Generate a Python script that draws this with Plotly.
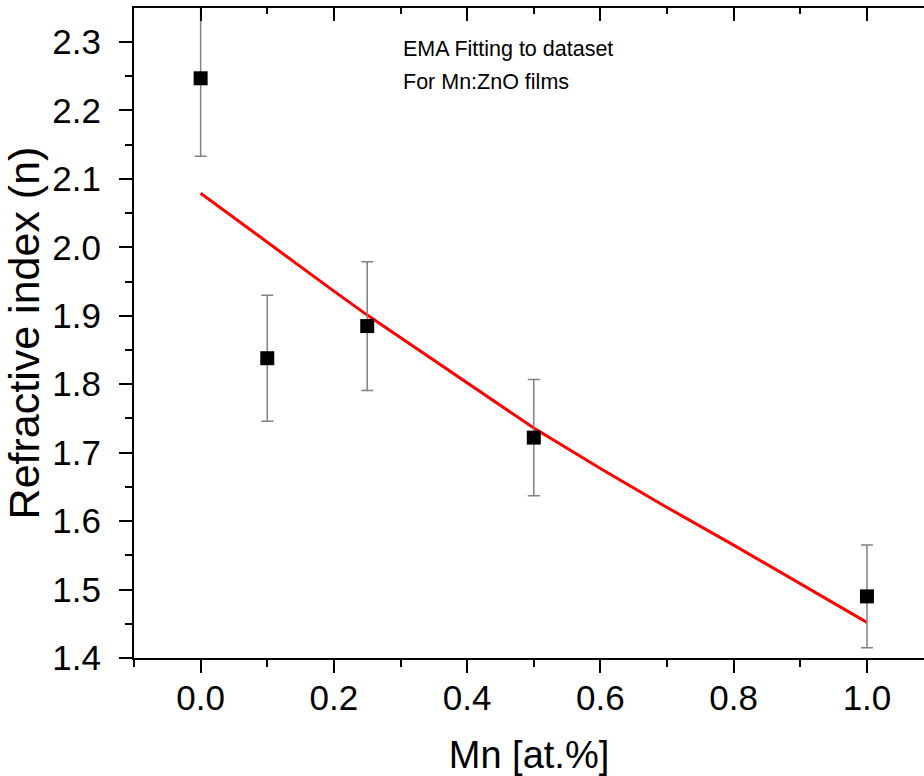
import plotly.graph_objects as go

# Measured data
mn_at = [0.0, 0.1, 0.25, 0.5, 1.0]
n_index = [2.247, 1.838, 1.885, 1.722, 1.490]
n_err = [0.114, 0.092, 0.094, 0.085, 0.075]

# EMA fit curve
fit_x = [0.0, 0.1, 0.2, 0.25, 0.3, 0.4, 0.5, 0.6, 0.7, 0.8, 0.9, 1.0]
fit_y = [2.079, 2.007, 1.936, 1.901, 1.868, 1.801, 1.736, 1.677, 1.620, 1.565, 1.508, 1.452]

x_ticks = [0.0, 0.2, 0.4, 0.6, 0.8, 1.0]
y_ticks = [1.4, 1.5, 1.6, 1.7, 1.8, 1.9, 2.0, 2.1, 2.2, 2.3]

FONT = "Liberation Sans, Arial, sans-serif"
XR = [-0.1, 1.0856]
YR = [1.4, 2.3497]

fig = go.Figure()
fig.add_trace(go.Scatter(
    x=fit_x, y=fit_y, mode="lines",
    line=dict(color="#ff0000", width=3), showlegend=False, hoverinfo="skip"))
fig.add_trace(go.Scatter(
    x=mn_at, y=n_index, mode="markers",
    marker=dict(symbol="square", size=14, color="black"),
    error_y=dict(type="data", array=n_err, visible=True,
                 color="#808080", thickness=1.5, width=6),
    showlegend=False))

fig.add_annotation(text="EMA Fitting to dataset", x=(401-134)/790, y=(658-49)/650,
                   xref="paper", yref="paper", xanchor="left", yanchor="middle",
                   showarrow=False, font=dict(family=FONT, size=21.5, color="black"))
fig.add_annotation(text="For Mn:ZnO films", x=(401-134)/790, y=(658-82)/650,
                   xref="paper", yref="paper", xanchor="left", yanchor="middle",
                   showarrow=False, font=dict(family=FONT, size=21.5, color="black"))

axis_common = dict(showgrid=False, zeroline=False, linecolor="black", linewidth=2,
                   tickcolor="black", tickwidth=2, ticklen=13, automargin=False)

fig.update_layout(
    width=924, height=776,
    margin=dict(l=134, r=0, t=8, b=118),
    paper_bgcolor="white", plot_bgcolor="white",
    font=dict(family=FONT, color="black"),
    xaxis=dict(**axis_common, range=XR, showline=True, ticks="outside",
               tickvals=x_ticks, ticktext=[f"{v:.1f}" for v in x_ticks],
               tickfont=dict(size=35, family=FONT), ticklabelstandoff=-5,
               minor=dict(ticks="outside", dtick=0.1, tick0=0, ticklen=7,
                          tickwidth=2, tickcolor="black"),
               title=dict(text="Mn [at.%]", font=dict(size=38, family=FONT), standoff=27)),
    xaxis2=dict(**axis_common, range=XR, overlaying="x", side="top", showline=True,
                ticks="inside", tickvals=x_ticks, showticklabels=False,
                minor=dict(ticks="inside", dtick=0.1, tick0=0, ticklen=6,
                           tickwidth=2, tickcolor="black")),
    yaxis=dict(**axis_common, range=YR, showline=True, ticks="outside",
               tickvals=y_ticks, ticktext=[f"{v:.1f}" for v in y_ticks],
               tickfont=dict(size=35, family=FONT), ticklabelstandoff=11,
               minor=dict(ticks="outside", dtick=0.05, tick0=1.4, ticklen=7,
                          tickwidth=2, tickcolor="black"),
               title=dict(text="Refractive index (n)", font=dict(size=43, family=FONT), standoff=4)),
)
fig.add_trace(go.Scatter(x=[None], y=[None], xaxis="x2", showlegend=False, hoverinfo="skip"))

fig.write_html("out.html", config={"displayModeBar": False},
               post_script="document.body.style.margin='0';")
